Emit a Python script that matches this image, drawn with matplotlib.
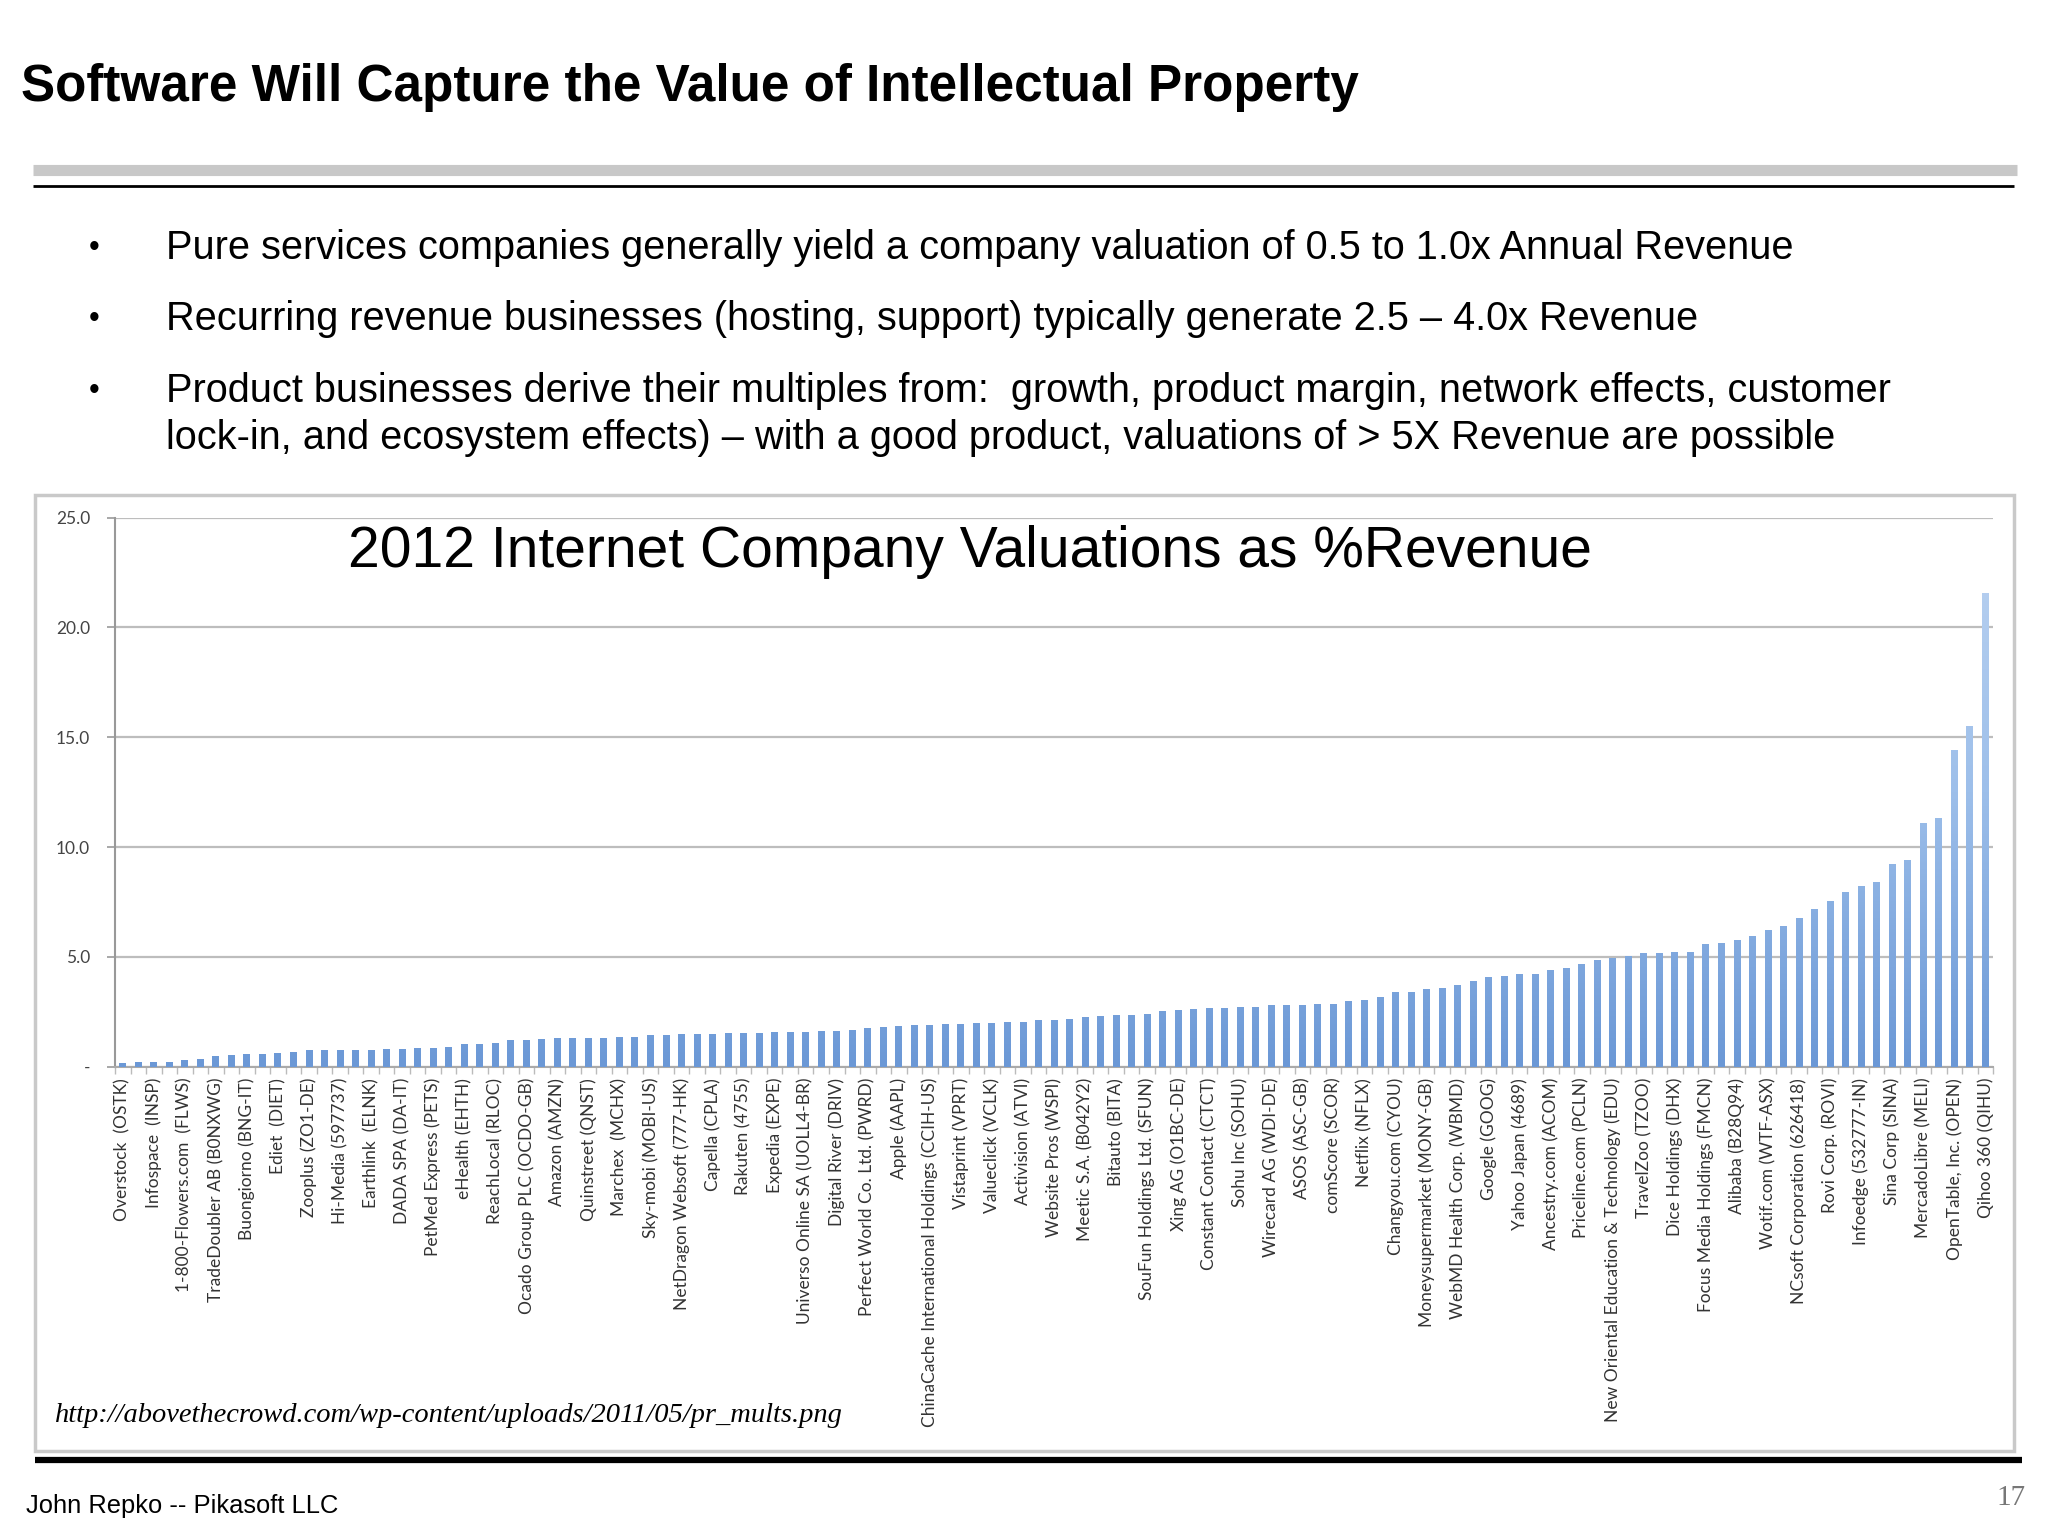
import matplotlib
matplotlib.use("Agg")
import numpy as np
import matplotlib.pyplot as plt
from matplotlib.patches import Rectangle
from matplotlib.lines import Line2D
from matplotlib.colors import LinearSegmentedColormap

companies = [
    "Overstock  (OSTK)", "Infospace  (INSP)", "1-800-Flowers.com  (FLWS)", "TradeDoubler AB (B0NXWG)",
    "Buongiorno (BNG-IT)", "Ediet  (DIET)", "Zooplus (ZO1-DE)", "Hi-Media (597737)",
    "Earthlink  (ELNK)", "DADA SPA (DA-IT)", "PetMed Express (PETS)", "eHealth (EHTH)",
    "ReachLocal (RLOC)", "Ocado Group PLC (OCDO-GB)", "Amazon (AMZN)", "Quinstreet (QNST)",
    "Marchex  (MCHX)", "Sky-mobi (MOBI-US)", "NetDragon Websoft (777-HK)", "Capella (CPLA)",
    "Rakuten (4755)", "Expedia (EXPE)", "Universo Online SA (UOLL4-BR)", "Digital River (DRIV)",
    "Perfect World Co. Ltd. (PWRD)", "Apple (AAPL)", "ChinaCache International Holdings (CCIH-US)",
    "Vistaprint (VPRT)", "Valueclick (VCLK)", "Activision (ATVI)", "Website Pros (WSPI)",
    "Meetic S.A. (B042Y2)", "Bitauto (BITA)", "SouFun Holdings Ltd. (SFUN)", "Xing AG (O1BC-DE)",
    "Constant Contact (CTCT)", "Sohu Inc (SOHU)", "Wirecard AG (WDI-DE)", "ASOS (ASC-GB)",
    "comScore (SCOR)", "Netflix (NFLX)", "Changyou.com (CYOU)", "Moneysupermarket (MONY-GB)",
    "WebMD Health Corp. (WBMD)", "Google (GOOG)", "Yahoo Japan (4689)", "Ancestry.com (ACOM)",
    "Priceline.com (PCLN)", "New Oriental Education & Technology (EDU)", "TravelZoo (TZOO)",
    "Dice Holdings (DHX)", "Focus Media Holdings (FMCN)", "Alibaba (B28Q94)", "Wotif.com (WTF-ASX)",
    "NCsoft Corporation (626418)", "Rovi Corp. (ROVI)", "Infoedge (532777-IN)", "Sina Corp (SINA)",
    "MercadoLibre (MELI)", "OpenTable, Inc. (OPEN)", "Qihoo 360 (QIHU)",
]

values = [
    0.15, 0.20, 0.20, 0.23, 0.30, 0.33, 0.50, 0.52, 0.57, 0.60,
    0.64, 0.69, 0.74, 0.74, 0.74, 0.75, 0.77, 0.82, 0.82, 0.83,
    0.85, 0.90, 1.03, 1.03, 1.06, 1.20, 1.23, 1.28, 1.30, 1.30,
    1.30, 1.31, 1.36, 1.36, 1.44, 1.45, 1.48, 1.48, 1.51, 1.52,
    1.52, 1.54, 1.56, 1.56, 1.59, 1.64, 1.64, 1.67, 1.74, 1.79,
    1.87, 1.91, 1.91, 1.94, 1.94, 2.00, 2.01, 2.05, 2.05, 2.14,
    2.14, 2.17, 2.28, 2.32, 2.35, 2.35, 2.40, 2.52, 2.60, 2.63,
    2.66, 2.68, 2.71, 2.71, 2.80, 2.80, 2.81, 2.86, 2.86, 3.01,
    3.04, 3.17, 3.39, 3.42, 3.52, 3.58, 3.70, 3.88, 4.08, 4.13,
    4.24, 4.24, 4.39, 4.51, 4.66, 4.85, 4.97, 5.03, 5.17, 5.20,
    5.22, 5.22, 5.57, 5.61, 5.77, 5.97, 6.21, 6.40, 6.75, 7.19,
    7.53, 7.97, 8.24, 8.40, 9.21, 9.40, 11.10, 11.32, 14.42, 15.52,
    21.57,
]

y_ticks = [0, 5, 10, 15, 20, 25]
y_tick_labels = ["-", "5.0", "10.0", "15.0", "20.0", "25.0"]

slide_title = "Software Will Capture the Value of Intellectual Property"
bullets = [
    ["Pure services companies generally yield a company valuation of 0.5 to 1.0x Annual Revenue"],
    ["Recurring revenue businesses (hosting, support) typically generate 2.5 \u2013 4.0x Revenue"],
    ["Product businesses derive their multiples from:  growth, product margin, network effects, customer",
     "lock-in, and ecosystem effects) \u2013 with a good product, valuations of > 5X Revenue are possible"],
]
chart_title = "2012 Internet Company Valuations as %Revenue"
source_url = "http://abovethecrowd.com/wp-content/uploads/2011/05/pr_mults.png"
footer = "John Repko -- Pikasoft LLC"
page_no = "17"

W, H = 1567.0, 1175.0  # layout reference units


def fx(x):
    return x / W


def fy(y):
    return 1 - y / H


fig = plt.figure(figsize=(20.48, 15.36), dpi=100)
fig.patch.set_facecolor("white")
sans = "Liberation Sans"

# Slide title
fig.text(fx(16), fy(67), slide_title, fontsize=36.9, fontweight="bold",
         family=sans, va="center", ha="left", color="black")

# Header rules
fig.add_artist(Line2D([fx(25), fx(1543)], [fy(130), fy(130)], color="#c8c8c8", lw=8,
                      solid_capstyle="butt", transform=fig.transFigure))
fig.add_artist(Line2D([fx(25), fx(1541)], [fy(142), fy(142)], color="black", lw=2,
                      solid_capstyle="butt", transform=fig.transFigure))

# Bullets
bullet_y = [190, 244, 299]
for yy, lines in zip(bullet_y, bullets):
    fig.text(fx(68), fy(yy), "\u2022", fontsize=22, family=sans, va="center", ha="left")
    for k, ln in enumerate(lines):
        fig.text(fx(127), fy(yy + 36 * k), ln, fontsize=28.6, family=sans,
                 va="center", ha="left", color="black")

# Chart frame
fig.add_artist(Rectangle((fx(27), fy(1110)), fx(1541) - fx(27), fy(379) - fy(1110),
                         transform=fig.transFigure, fill=False, edgecolor="#c9c9c9", lw=2.5))

# Axes
ax = fig.add_axes([fx(88), fy(816), fx(1525) - fx(88), fy(396) - fy(816)])
x = list(range(len(values)))
bars = ax.bar(x, values, width=0.45, color="#86aee2", edgecolor="none", linewidth=0, zorder=3)
cmap = LinearSegmentedColormap.from_list("bargrad", ["#6b98d6", "#9dbfea", "#bcd3f1"])
grad = np.linspace(0, 1, 256).reshape(-1, 1)
for b in bars:
    x0, w = b.get_x(), b.get_width()
    im = ax.imshow(grad, cmap=cmap, origin="lower", aspect="auto",
                   extent=[x0, x0 + w, 0, 25], zorder=3.5, interpolation="bilinear")
    im.set_clip_path(b)
ax.set_xlim(-0.5, len(values) - 0.5)
ax.set_ylim(0, 25)
ax.set_yticks(y_ticks)
ax.set_yticklabels(y_tick_labels, family="Lato", fontsize=12.5, color="#444444")
ax.yaxis.grid(True, color="#bdbdbd", lw=1.6, zorder=0)
ax.set_axisbelow(True)
ax.set_xticks(list(range(0, len(values), 2)))
ax.set_xticklabels(companies, rotation=90, family="Lato", fontsize=12.5, color="#333333")
ax.set_xticks([i - 0.5 for i in range(len(values) + 1)], minor=True)
ax.tick_params(axis="x", which="major", length=0, pad=8)
ax.tick_params(axis="x", which="minor", length=5, color="#bbbbbb", width=1)
ax.tick_params(axis="y", length=6, color="#999999", width=1.2, pad=12)
for s in ["top", "right"]:
    ax.spines[s].set_visible(False)
ax.spines["left"].set_color("#999999")
ax.spines["left"].set_linewidth(1.5)
ax.spines["bottom"].set_color("#aaaaaa")
ax.spines["bottom"].set_linewidth(1.5)

fig.text(fx(742), fy(422), chart_title, fontsize=41, family=sans, ha="center", va="center")

fig.text(fx(42), fy(1083), source_url, fontsize=20.5, family="Liberation Serif", style="italic",
         ha="left", va="center", color="black")

# Footer rule and text
fig.add_artist(Line2D([fx(27), fx(1547)], [fy(1117), fy(1117)], color="black", lw=4.5,
                      solid_capstyle="butt", transform=fig.transFigure))
fig.text(fx(20), fy(1152), footer, fontsize=18.4, family=sans, ha="left", va="center")
fig.text(fx(1550), fy(1146), page_no, fontsize=21, family="Liberation Serif", ha="right",
         va="center", color="#777777")

fig.savefig("out.png", dpi=100, facecolor="white")
